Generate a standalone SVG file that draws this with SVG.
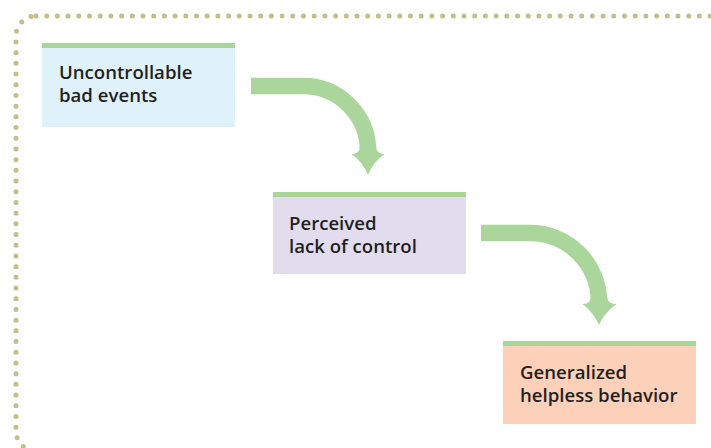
<svg xmlns="http://www.w3.org/2000/svg" width="711" height="448" viewBox="0 0 711 448">
  <style>
    .frame { fill: none; stroke: #c4bd8a; stroke-width: 5; stroke-linecap: round; stroke-dasharray: 0 10.7; }
    .bar { fill: #a9d59a; }
    .lbl { font-family: "Open Sans", "Noto Sans", sans-serif; font-weight: 600; font-size: 18.6px; fill: #231f20; }
    .shaft { fill: none; stroke: #abd69b; stroke-width: 16.5; }
    .head { fill: #abd69b; }
  </style>
  <rect class="frame" x="16" y="16" width="730" height="435" rx="20" ry="20"/>

  <g id="node-uncontrollable">
    <rect x="42" y="43" width="193" height="84" fill="#dff2fc"/>
    <rect class="bar" x="42" y="43" width="193" height="5"/>
    <text class="lbl" x="59" y="79">Uncontrollable</text>
    <text class="lbl" x="59" y="102">bad events</text>
  </g>

  <g id="node-perceived">
    <rect x="273" y="192" width="193" height="82" fill="#e1ddef"/>
    <rect class="bar" x="273" y="192" width="193" height="5"/>
    <text class="lbl" x="289" y="230">Perceived</text>
    <text class="lbl" x="289" y="253">lack of control</text>
  </g>

  <g id="node-generalized">
    <rect x="503" y="341" width="193" height="83" fill="#fdd1b9"/>
    <rect class="bar" x="503" y="341" width="193" height="5"/>
    <text class="lbl" x="520" y="379">Generalized</text>
    <text class="lbl" x="520" y="402">helpless behavior</text>
  </g>

  <g id="connectors">
    <path class="shaft" d="M251 86 H303 A65 65 0 0 1 368 151 V152"/>
    <path class="head" d="M359.75 146 Q360 154 351.5 154 Q363 162 368 175 Q373 162 384.5 154 Q376 154 376.25 146 Z"/>
    <path class="shaft" d="M481 233 H530 A69 69 0 0 1 599 302 V303"/>
    <path class="head" d="M590.75 297 Q591 304 582.5 304 Q594 313 599 325 Q604 313 616.5 304 Q607 304 607.25 297 Z"/>
  </g>
</svg>
